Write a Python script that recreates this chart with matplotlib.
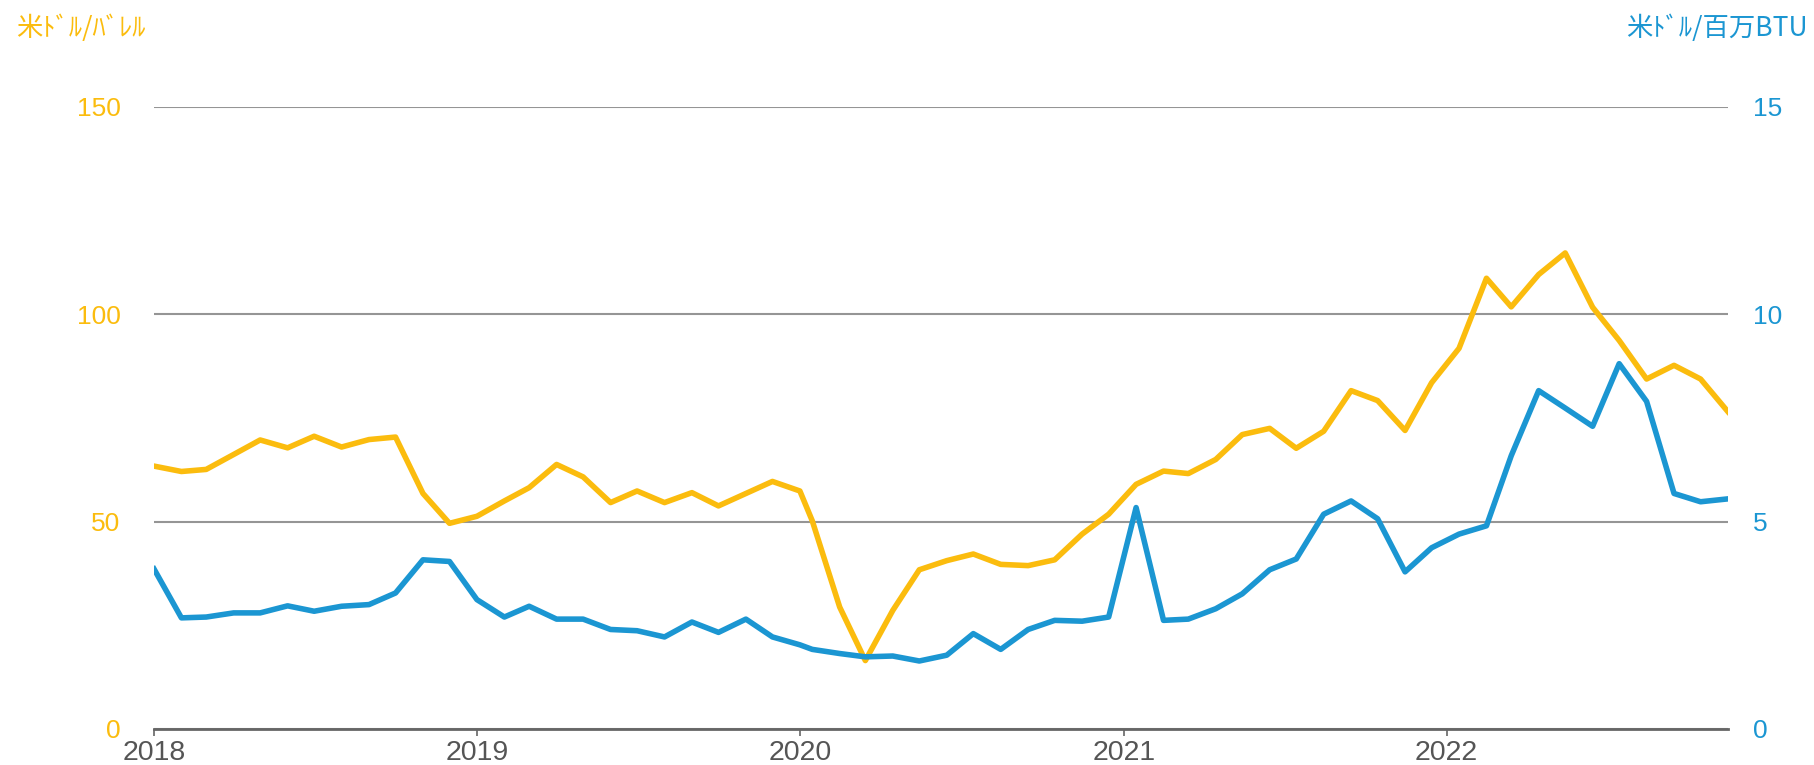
import matplotlib
matplotlib.use("Agg")
import matplotlib.pyplot as plt
import matplotlib.dates as mdates
import pandas as pd

# monthly points: month starts up to Jan 2020, mid-month after that
dates_early = pd.date_range("2018-01-01", "2020-01-01", freq="MS")
dates_late = pd.date_range("2020-01-01", "2022-11-01", freq="MS") + pd.Timedelta(days=14)
dates = dates_early.append(dates_late)

# crude oil, USD per barrel (left axis)
oil = [63.4, 62.1, 62.6, 66.2, 69.7, 67.8, 70.6, 68.0, 69.8, 70.4, 56.8, 49.6,
       51.3, 55.0, 58.2, 63.8, 60.8, 54.6, 57.4, 54.6, 57.0, 53.8, 56.8, 59.7,
       57.4, 50.2, 29.4, 16.5, 28.6, 38.4, 40.6, 42.2, 39.7, 39.4, 40.8, 47.0, 51.8,
       59.0, 62.2, 61.6, 65.0, 71.0, 72.5, 67.7, 71.8, 81.6, 79.2, 72.0, 83.5,
       91.8, 108.7, 101.8, 109.6, 114.8, 101.7, 93.7, 84.4, 87.7, 84.4, 76.5]

# natural gas, USD per million BTU (right axis)
gas = [3.86, 2.68, 2.70, 2.80, 2.80, 2.97, 2.84, 2.96, 3.00, 3.28, 4.08, 4.04,
       3.12, 2.70, 2.96, 2.65, 2.65, 2.40, 2.37, 2.22, 2.58, 2.33, 2.65, 2.22,
       2.03, 1.92, 1.82, 1.74, 1.76, 1.64, 1.78, 2.30, 1.92, 2.40, 2.62, 2.60, 2.70,
       5.34, 2.62, 2.65, 2.90, 3.26, 3.84, 4.10, 5.18, 5.50, 5.07, 3.79, 4.37,
       4.70, 4.90, 6.59, 8.16, 7.74, 7.30, 8.81, 7.90, 5.68, 5.48, 5.55]

left_ticks = [0, 50, 100, 150]
right_ticks = [0, 5, 10, 15]
left_unit = "米ﾄﾞﾙ/ﾊﾞﾚﾙ"
right_unit = "米ﾄﾞﾙ/百万BTU"

YELLOW = "#FBBC0E"
BLUE = "#1B96D2"
cjk = ["Noto Sans CJK JP", "DejaVu Sans"]
plt.rcParams["font.family"] = ["Liberation Sans", "DejaVu Sans"]

W, H = 1814, 765
fig = plt.figure(figsize=(W / 100, H / 100), dpi=100)
ax = fig.add_axes([154 / W, 36 / H, 1574 / W, 622 / H])
ax2 = ax.twinx()

ax.plot(dates, oil, color=YELLOW, lw=4, zorder=3)
ax2.plot(dates, gas, color=BLUE, lw=4, zorder=3)

ax.set_xlim(dates[0], dates[-1])
ax.set_ylim(0, 150)
ax2.set_ylim(0, 15)
ax.set_yticks(left_ticks)
ax2.set_yticks(right_ticks)

ax.grid(axis="y", color="#959595", lw=1.5)
ax.set_axisbelow(True)
for a in (ax, ax2):
    for s in ("top", "left", "right"):
        a.spines[s].set_visible(False)
ax2.spines["bottom"].set_visible(False)
ax.spines["bottom"].set_color("#666666")
ax.spines["bottom"].set_linewidth(2)
ax.spines["bottom"].set_zorder(2)

ax.xaxis.set_major_locator(mdates.YearLocator())
ax.xaxis.set_major_formatter(mdates.DateFormatter("%Y"))
ax.tick_params(axis="x", length=5, width=1.2, color="#666666",
               labelcolor="#555555", labelsize=20.5, pad=3)
ax.tick_params(axis="y", length=0, pad=24, labelcolor=YELLOW, labelsize=19)
ax2.tick_params(axis="y", length=0, pad=18, labelcolor=BLUE, labelsize=19)

fig.text(16 / W, 1 - 28 / H, left_unit, color=YELLOW, fontsize=19,
         family=cjk, ha="left", va="center")
fig.text(1808 / W, 1 - 28 / H, right_unit, color=BLUE, fontsize=19,
         family=cjk, ha="right", va="center")

fig.savefig("out.png", dpi=100)
